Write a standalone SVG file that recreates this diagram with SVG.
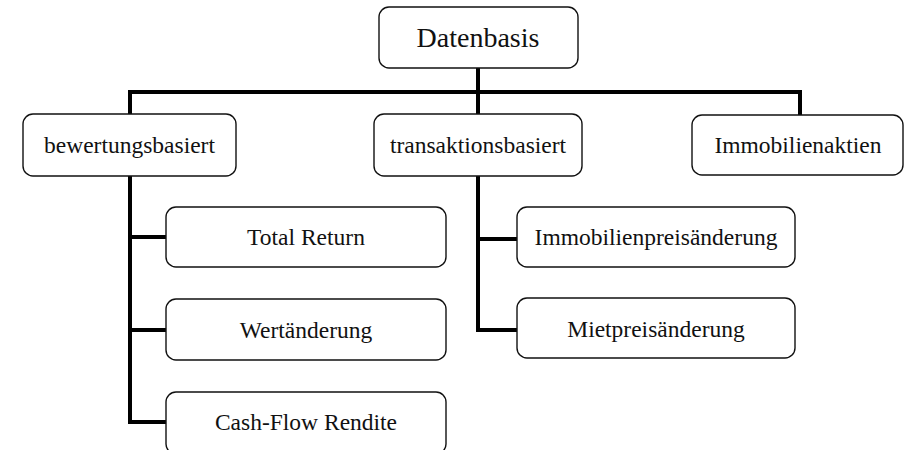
<svg xmlns="http://www.w3.org/2000/svg" width="906" height="450" viewBox="0 0 906 450">
<style>
.box{fill:#fff;stroke:#111;stroke-width:1.4}
.t{font-family:"Liberation Serif","Times New Roman",serif;font-size:23.5px;fill:#111;text-anchor:middle}
.big{font-size:28px}
.c{fill:none;stroke:#000;stroke-width:4;stroke-linecap:square;stroke-linejoin:miter}
</style>
<rect width="906" height="450" fill="#fff"/>
<g id="connectors">
<path class="c" d="M478 68 V114 M130 92 H800 M130 92 V114 M800 92 V115"/>
<path class="c" d="M130 176 V422 H166 M130 237 H166 M130 330 H166"/>
<path class="c" d="M478 176 V330 H517 M478 239 H517"/>
</g>
<g id="n-datenbasis"><rect class="box" x="379" y="7" width="199" height="61" rx="10"/><text class="t big" x="478" y="47">Datenbasis</text></g>
<g id="n-bewertungsbasiert"><rect class="box" x="23" y="114" width="213" height="62" rx="10"/><text class="t" x="129.5" y="153">bewertungsbasiert</text></g>
<g id="n-transaktionsbasiert"><rect class="box" x="374" y="114" width="208" height="62" rx="10"/><text class="t" x="478" y="153">transaktionsbasiert</text></g>
<g id="n-immobilienaktien"><rect class="box" x="692" y="115" width="211" height="60" rx="10"/><text class="t" x="798" y="153">Immobilienaktien</text></g>
<g id="n-totalreturn"><rect class="box" x="166" y="207" width="280" height="60" rx="10"/><text class="t" x="306" y="245">Total Return</text></g>
<g id="n-wertaenderung"><rect class="box" x="166" y="299" width="280" height="61" rx="10"/><text class="t" x="306" y="338">Wertänderung</text></g>
<g id="n-cashflow"><rect class="box" x="166" y="392" width="280" height="62" rx="10"/><text class="t" x="306" y="430">Cash-Flow Rendite</text></g>
<g id="n-immopreis"><rect class="box" x="517" y="207" width="278" height="60" rx="10"/><text class="t" x="656" y="245">Immobilienpreisänderung</text></g>
<g id="n-mietpreis"><rect class="box" x="517" y="298" width="278" height="60" rx="10"/><text class="t" x="656" y="337">Mietpreisänderung</text></g>
</svg>
